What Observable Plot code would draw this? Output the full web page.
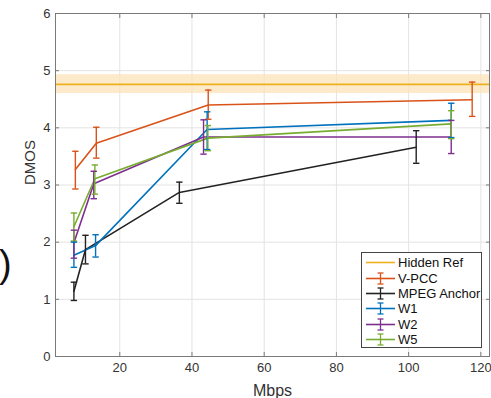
<!DOCTYPE html>
<html>
<head>
<meta charset="utf-8">
<script src="https://cdn.jsdelivr.net/npm/d3@7"></script>
<script src="https://cdn.jsdelivr.net/npm/@observablehq/plot@0.6"></script>
<style>
  html, body { margin: 0; padding: 0; background: #fff; }
  #wrap { position: relative; width: 491px; height: 398px; font-family: "Liberation Sans", Arial, sans-serif; }
  #paren { position: absolute; left: -1px; top: 245px; font-size: 38px; line-height: 1; color: #111; font-family: "Liberation Sans", Arial, sans-serif; }
  #legend { position: absolute; left: 361px; top: 252px; width: 121px; height: 96px; box-sizing: border-box; border: 1px solid #444; background: #fff; padding: 2px 0 0 3px; }
  .row { display: flex; align-items: center; height: 15.4px; font-size: 13px; color: #111; }
  .row svg { margin-right: 2px; }
</style>
</head>
<body>
<div id="wrap">
  <div id="paren">)</div>
  <div id="chart"></div>
  <div id="legend"></div>
</div>
<script>
// Series names and colours
const seriesNames = ["V-PCC", "MPEG Anchor", "W1", "W2", "W5"];
const seriesColors = ["#D95319", "#222222", "#0072BD", "#7E2F8E", "#77AC30"];
const hiddenRefName = "Hidden Ref";
const hiddenRefColor = "#EDB120";

// Axis titles
const xTitle = ["Mbps"];
const yTitle = ["DMOS"];

// Hidden reference: mean and confidence band
const hiddenRefMean = [4.76];
const hiddenRefLow = [4.60];
const hiddenRefHigh = [4.93];

// Bitrates (Mbps)
const vpccX = [7.7, 13.5, 44.5, 117.6];
const anchorX = [7.3, 10.5, 36.5, 102.1];
const w1X = [7.3, 13.3, 44.2, 111.8];
const w2X = [7.3, 12.8, 43.2, 111.8];
const w5X = [7.3, 13.1, 44.4, 111.8];

// DMOS values
const vpccY = [3.27, 3.73, 4.40, 4.49];
const anchorY = [1.14, 1.87, 2.87, 3.66];
const w1Y = [1.77, 1.94, 3.97, 4.13];
const w2Y = [1.99, 3.02, 3.84, 3.84];
const w5Y = [2.27, 3.11, 3.82, 4.07];

// Confidence interval lows / highs
const vpccLo = [2.93, 3.47, 4.15, 4.20];
const vpccHi = [3.59, 4.01, 4.66, 4.80];
const anchorLo = [0.98, 1.62, 2.68, 3.38];
const anchorHi = [1.30, 2.12, 3.05, 3.95];
const w1Lo = [1.56, 1.74, 3.62, 3.83];
const w1Hi = [2.00, 2.13, 4.28, 4.43];
const w2Lo = [1.72, 2.76, 3.54, 3.55];
const w2Hi = [2.21, 3.24, 4.14, 4.13];
const w5Lo = [2.02, 2.84, 3.60, 3.81];
const w5Hi = [2.51, 3.35, 4.04, 4.30];

// Axis ticks
const xTicks = [20, 40, 60, 80, 100, 120];
const yTicks = [0, 1, 2, 3, 4, 5, 6];

const allX = [vpccX, anchorX, w1X, w2X, w5X];
const allY = [vpccY, anchorY, w1Y, w2Y, w5Y];
const allLo = [vpccLo, anchorLo, w1Lo, w2Lo, w5Lo];
const allHi = [vpccHi, anchorHi, w1Hi, w2Hi, w5Hi];

const data = [];
seriesNames.forEach((name, s) => {
  allX[s].forEach((x, i) => {
    data.push({series: name, x, y: allY[s][i], lo: allLo[s][i], hi: allHi[s][i]});
  });
});

const capSymbol = {
  draw(context, size) {
    const w = Math.sqrt(size) / 2;
    context.moveTo(-w, 0);
    context.lineTo(w, 0);
  }
};

const band = [{lo: hiddenRefLow[0], hi: hiddenRefHigh[0]}];

const chart = Plot.plot({
  width: 491,
  height: 398,
  marginLeft: 55,
  marginTop: 13,
  marginBottom: 42,
  marginRight: 2,
  style: {fontFamily: "Liberation Sans, Arial, sans-serif", fontSize: "13px", color: "#333", background: "#fff", overflow: "visible"},
  x: {domain: [2.2, 122.4], label: null},
  y: {domain: [0, 6], label: null},
  color: {domain: seriesNames, range: seriesColors},
  marks: [
    Plot.gridX(xTicks, {stroke: "#e3e3e3", strokeOpacity: 1}),
    Plot.gridY(yTicks, {stroke: "#e3e3e3", strokeOpacity: 1}),
    Plot.rect(band, {y1: "lo", y2: "hi", fill: "#FBE3B8", fillOpacity: 0.75}),
    Plot.ruleY(hiddenRefMean, {stroke: hiddenRefColor, strokeWidth: 1.6}),
    Plot.line(data, {x: "x", y: "y", z: "series", stroke: "series", strokeWidth: 1.6}),
    Plot.ruleX(data, {x: "x", y1: "lo", y2: "hi", stroke: "series", strokeWidth: 1.4}),
    Plot.dot(data, {x: "x", y: "lo", symbol: capSymbol, r: 3.6, stroke: "series", strokeWidth: 1.4, fill: "none"}),
    Plot.dot(data, {x: "x", y: "hi", symbol: capSymbol, r: 3.6, stroke: "series", strokeWidth: 1.4, fill: "none"}),
    Plot.frame({stroke: "#7a7a7a", strokeWidth: 1}),
    Plot.axisX(xTicks, {anchor: "bottom", tickSize: -4, tickPadding: 10, fontSize: 13, tickFormat: d3.format("d"), stroke: "#7a7a7a", fill: "#333", label: null}),
    Plot.axisX(xTicks, {anchor: "top", tickSize: -4, tickFormat: () => "", stroke: "#7a7a7a", label: null}),
    Plot.axisY(yTicks, {anchor: "left", tickSize: -4, tickPadding: 9, fontSize: 13, tickFormat: d3.format("d"), stroke: "#7a7a7a", fill: "#333", label: null}),
    Plot.axisY(yTicks, {anchor: "right", tickSize: -4, tickFormat: () => "", stroke: "#7a7a7a", label: null}),
    Plot.text(xTitle, {frameAnchor: "bottom", dy: 34, fontSize: 16, fill: "#333", lineAnchor: "middle"}),
    Plot.text(yTitle, {frameAnchor: "left", dx: -25, rotate: -90, fontSize: 15, fill: "#333", lineAnchor: "middle"})
  ]
});
document.getElementById("chart").appendChild(chart);

// Legend
const legend = document.getElementById("legend");
const entries = [{name: hiddenRefName, color: hiddenRefColor, err: false}]
  .concat(seriesNames.map((n, i) => ({name: n, color: seriesColors[i], err: true})));
entries.forEach(e => {
  const row = document.createElement("div");
  row.className = "row";
  const ns = "http://www.w3.org/2000/svg";
  const svg = document.createElementNS(ns, "svg");
  svg.setAttribute("width", "31");
  svg.setAttribute("height", "15");
  let inner = `<line x1="1" x2="30" y1="7.5" y2="7.5" stroke="${e.color}" stroke-width="1.6"/>`;
  if (e.err) {
    inner += `<line x1="15.5" x2="15.5" y1="2" y2="13" stroke="${e.color}" stroke-width="1.3"/>` +
             `<line x1="12.5" x2="18.5" y1="2" y2="2" stroke="${e.color}" stroke-width="1.3"/>` +
             `<line x1="12.5" x2="18.5" y1="13" y2="13" stroke="${e.color}" stroke-width="1.3"/>`;
  }
  svg.innerHTML = inner;
  row.appendChild(svg);
  const span = document.createElement("span");
  span.textContent = e.name;
  row.appendChild(span);
  legend.appendChild(row);
});
</script>
</body>
</html>
